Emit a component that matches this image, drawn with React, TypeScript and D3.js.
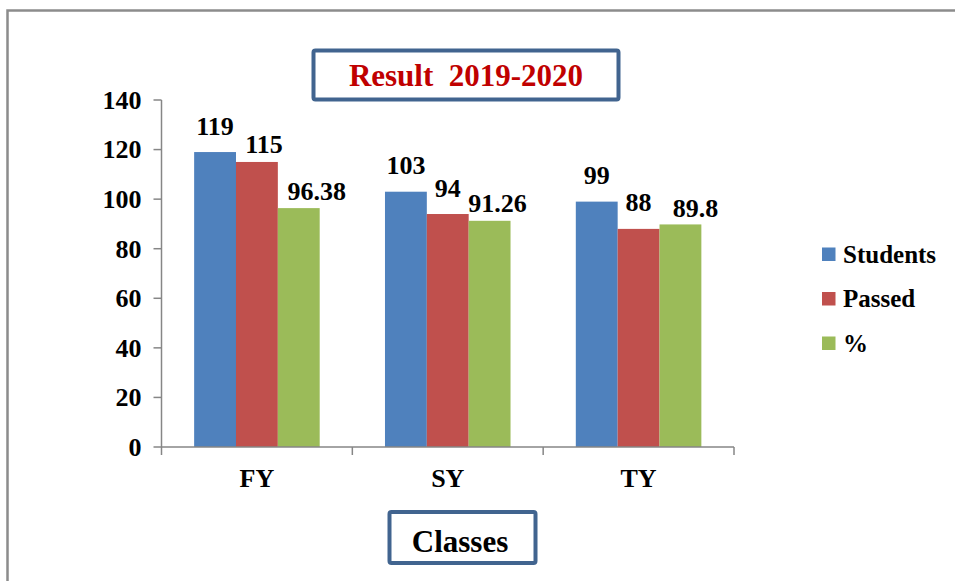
import * as d3 from 'd3';
import React from 'react';

// chart values
const categories = ['FY', 'SY', 'TY'];
const seriesNames = ['Students', 'Passed', '%'];
const students = [119, 103, 99];
const passed = [115, 94, 88];
const percent = [96.38, 91.26, 89.8];
const labelText = [
    ['119', '103', '99'],
    ['115', '94', '88'],
    ['96.38', '91.26', '89.8'],
];
const yTicks = [0, 20, 40, 60, 80, 100, 120, 140];

const colors = ['#4F81BD', '#C0504D', '#9BBB59'];

// labels were dragged around by hand in the original, so keep their nudges (dx, dy)
const labelNudge = [
    [[0, 0], [0, 0], [0, 0]],
    [[7, 9], [0, 0], [0, 0]],
    [[18, 9], [8, 9], [15, 10]],
];

const params = {
    width: 955,
    height: 581,
    plotLeft: 161.5,
    plotRight: 734,
    plotTop: 100,
    plotBottom: 447,
    font: "'Liberation Serif', 'DejaVu Serif', serif",
    axisColor: '#868686',
    boxColor: '#41648F',
};

const App = () => {
    const values = [students, passed, percent];

    const x0 = d3.scaleBand<string>()
        .domain(categories)
        .range([params.plotLeft, params.plotRight])
        .padding(0);

    const x1 = d3.scaleBand<string>()
        .domain(seriesNames)
        .range([0, x0.bandwidth()])
        .paddingInner(0)
        .paddingOuter(0.78);

    const y = d3.scaleLinear()
        .domain([0, 140])
        .range([params.plotBottom, params.plotTop]);

    const catTicks = [...categories.map(c => x0(c) as number), params.plotRight];

    return (
        <svg width={params.width} height={params.height}
            style={{position: 'fixed', left: 0, top: 0, background: '#fff', fontFamily: params.font, fontWeight: 'bold'}}>
            {/* outer frame, right and bottom edges are off the picture */}
            <rect x={7.5} y={10.5} width={1200} height={1200} fill="none" stroke="#8C8C8C" strokeWidth={2.5} />

            {/* title box */}
            <rect x={313.5} y={50.5} width={305} height={49} rx={2} fill="#fff" stroke={params.boxColor} strokeWidth={4} />
            <text x={466} y={85.5} textAnchor="middle" fontSize={31} fill="#C00000" style={{whiteSpace: 'pre'}}>
                {'Result  2019-2020'}
            </text>

            {/* bars */}
            {values.map((series, si) => (
                <g key={seriesNames[si]}>
                    {series.map((v, ci) => {
                        const bx = (x0(categories[ci]) as number) + (x1(seriesNames[si]) as number);
                        return (
                            <rect key={categories[ci]} x={bx} y={y(v)} width={x1.bandwidth()}
                                height={y(0) - y(v)} fill={colors[si]} />
                        );
                    })}
                </g>
            ))}

            {/* data labels */}
            {values.map((series, si) => (
                <g key={'l' + si} fontSize={26} fill="#000" textAnchor="middle">
                    {series.map((v, ci) => {
                        const cx = (x0(categories[ci]) as number) + (x1(seriesNames[si]) as number) + x1.bandwidth() / 2;
                        const [dx, dy] = labelNudge[si][ci];
                        return (
                            <text key={ci} x={cx + dx} y={y(v) - 17.5 + dy}>{labelText[si][ci]}</text>
                        );
                    })}
                </g>
            ))}

            {/* axes */}
            <g stroke={params.axisColor} strokeWidth={1.5}>
                <line x1={params.plotLeft} x2={params.plotLeft} y1={params.plotTop} y2={params.plotBottom} />
                {yTicks.map(t => (
                    <line key={t} x1={params.plotLeft - 8} x2={params.plotLeft} y1={y(t)} y2={y(t)} />
                ))}
                <line x1={params.plotLeft} x2={params.plotRight} y1={params.plotBottom} y2={params.plotBottom} />
                {catTicks.map((t, i) => (
                    <line key={i} x1={t} x2={t} y1={params.plotBottom} y2={params.plotBottom + 8} />
                ))}
            </g>
            <g fontSize={26} textAnchor="end" fill="#000">
                {yTicks.map(t => (
                    <text key={t} x={params.plotLeft - 20} y={y(t)} dy="0.34em">{t}</text>
                ))}
            </g>
            <g fontSize={26} textAnchor="middle" fill="#000">
                {categories.map(c => (
                    <text key={c} x={(x0(c) as number) + x0.bandwidth() / 2} y={487}>{c}</text>
                ))}
            </g>

            {/* legend */}
            {seriesNames.map((s, i) => (
                <g key={s} transform={`translate(822,${254 + i * 44.5})`}>
                    <rect x={0} y={-6.5} width={13.5} height={13.5} fill={colors[i]} />
                    <text x={21} y={8.5} fontSize={25}>{s}</text>
                </g>
            ))}

            {/* axis title box */}
            <rect x={389.5} y={512} width={146} height={51} rx={2} fill="#fff" stroke={params.boxColor} strokeWidth={4} />
            <text x={460} y={551.5} textAnchor="middle" fontSize={31} fill="#000">Classes</text>
        </svg>
    );
};

export default App;
